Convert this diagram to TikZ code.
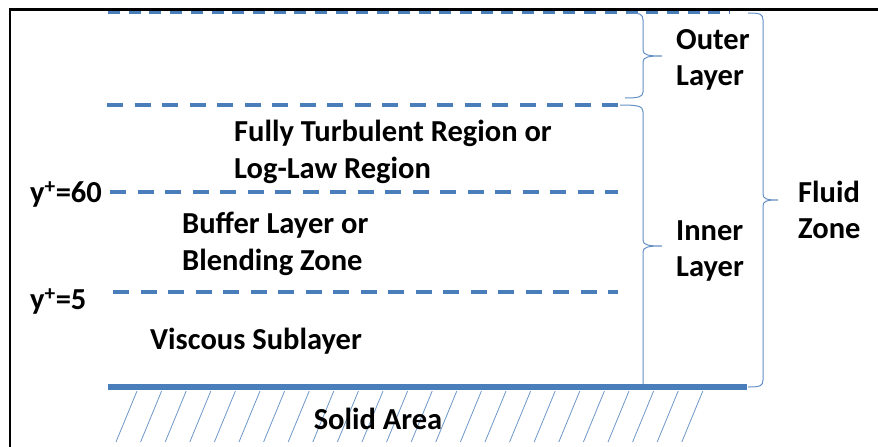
\documentclass[tikz,border=0pt]{standalone}
\usepackage{fontspec}
\setmainfont{Carlito}
\begin{document}
\begin{tikzpicture}[x=1pt,y=-1pt,
  lbl/.style={font=\fontsize{30.5}{36.5}\selectfont\bfseries, inner sep=0pt, align=left},
  zoneline/.style={draw=wallblue, line width=3.5pt, dash pattern=on 16pt off 11.5pt},
  brace/.style={draw=wallblue!85!white, line width=1pt},
  hatch/.style={draw=wallblue!80!white, line width=0.8pt}]
\definecolor{wallblue}{HTML}{4A7EBB}
\useasboundingbox (0,0) rectangle (878,447);
\fill[white] (0,0) rectangle (878,447);

% coordinates of the layer boundaries
\coordinate (t0) at (108,12);   \coordinate (t1) at (730,12);
\coordinate (o0) at (107,105);  \coordinate (o1) at (618,105);
\coordinate (b0) at (110,192);  \coordinate (b1) at (618,192);
\coordinate (v0) at (113,292);  \coordinate (v1) at (618,292);
\coordinate (w0) at (108,387);  \coordinate (w1) at (747,387);

% dashed layer boundaries
\draw[draw=wallblue, line width=3.5pt, dash pattern=on 12pt off 8.7pt] (t0) -- (t1);
\draw[zoneline] (o0) -- (o1);
\draw[zoneline] (b0) -- (b1);
\draw[zoneline] (v0) -- (v1);

% frame
\draw[black, line width=2.6pt] (10,447) -- (10,9.5) -- (878,9.5);

% hatching of the solid wall
\foreach \k in {0,...,23}
  \draw[hatch] ({137+24.6*\k},391) -- ({116+24.6*\k},442);

% braces
\draw[brace] (628,13) .. controls (640,13) and (643,14) .. (643,20)
  -- (643,50) .. controls (643,55) and (648,56) .. (662,56)
  .. controls (648,56) and (643,57) .. (643,62)
  -- (643,92) .. controls (643,97) and (638,98) .. (625,98);
\draw[brace] (620,105) .. controls (638,105) and (643,106) .. (643,112)
  -- (643,240) .. controls (643,245) and (648,246) .. (662,246)
  .. controls (648,246) and (643,247) .. (643,252)
  -- (643,387);
\draw[brace] (748,13) .. controls (760,13) and (763,14) .. (763,20)
  -- (763,194) .. controls (763,199) and (767,200) .. (778,200)
  .. controls (767,200) and (763,201) .. (763,206)
  -- (763,380) .. controls (763,386) and (760,387) .. (748,387);

% solid wall
\draw[draw=wallblue, line width=6pt] (w0) -- (w1);

% labels
\node[lbl, anchor=west] (outer) at (676,60) {Outer\\Layer};
\node[lbl, anchor=west] (inner) at (676,251) {Inner\\Layer};
\node[lbl, anchor=west] (fluid) at (798,210) {Fluid\\Zone};
\node[lbl, anchor=west] (log) at (234,152) {Fully Turbulent Region or\\Log-Law Region};
\node[lbl, anchor=west] (buf) at (182,244) {Buffer Layer or\\Blending Zone};
\node[lbl, anchor=west] (visc) at (150,341) {Viscous Sublayer};
\node[lbl, anchor=west] (y60) at (30,194) {y\textsuperscript{+}=60};
\node[lbl, anchor=west] (y5) at (30,301) {y\textsuperscript{+}=5};
\node[lbl] (solid) at (378,419) {Solid Area};
\end{tikzpicture}
\end{document}
